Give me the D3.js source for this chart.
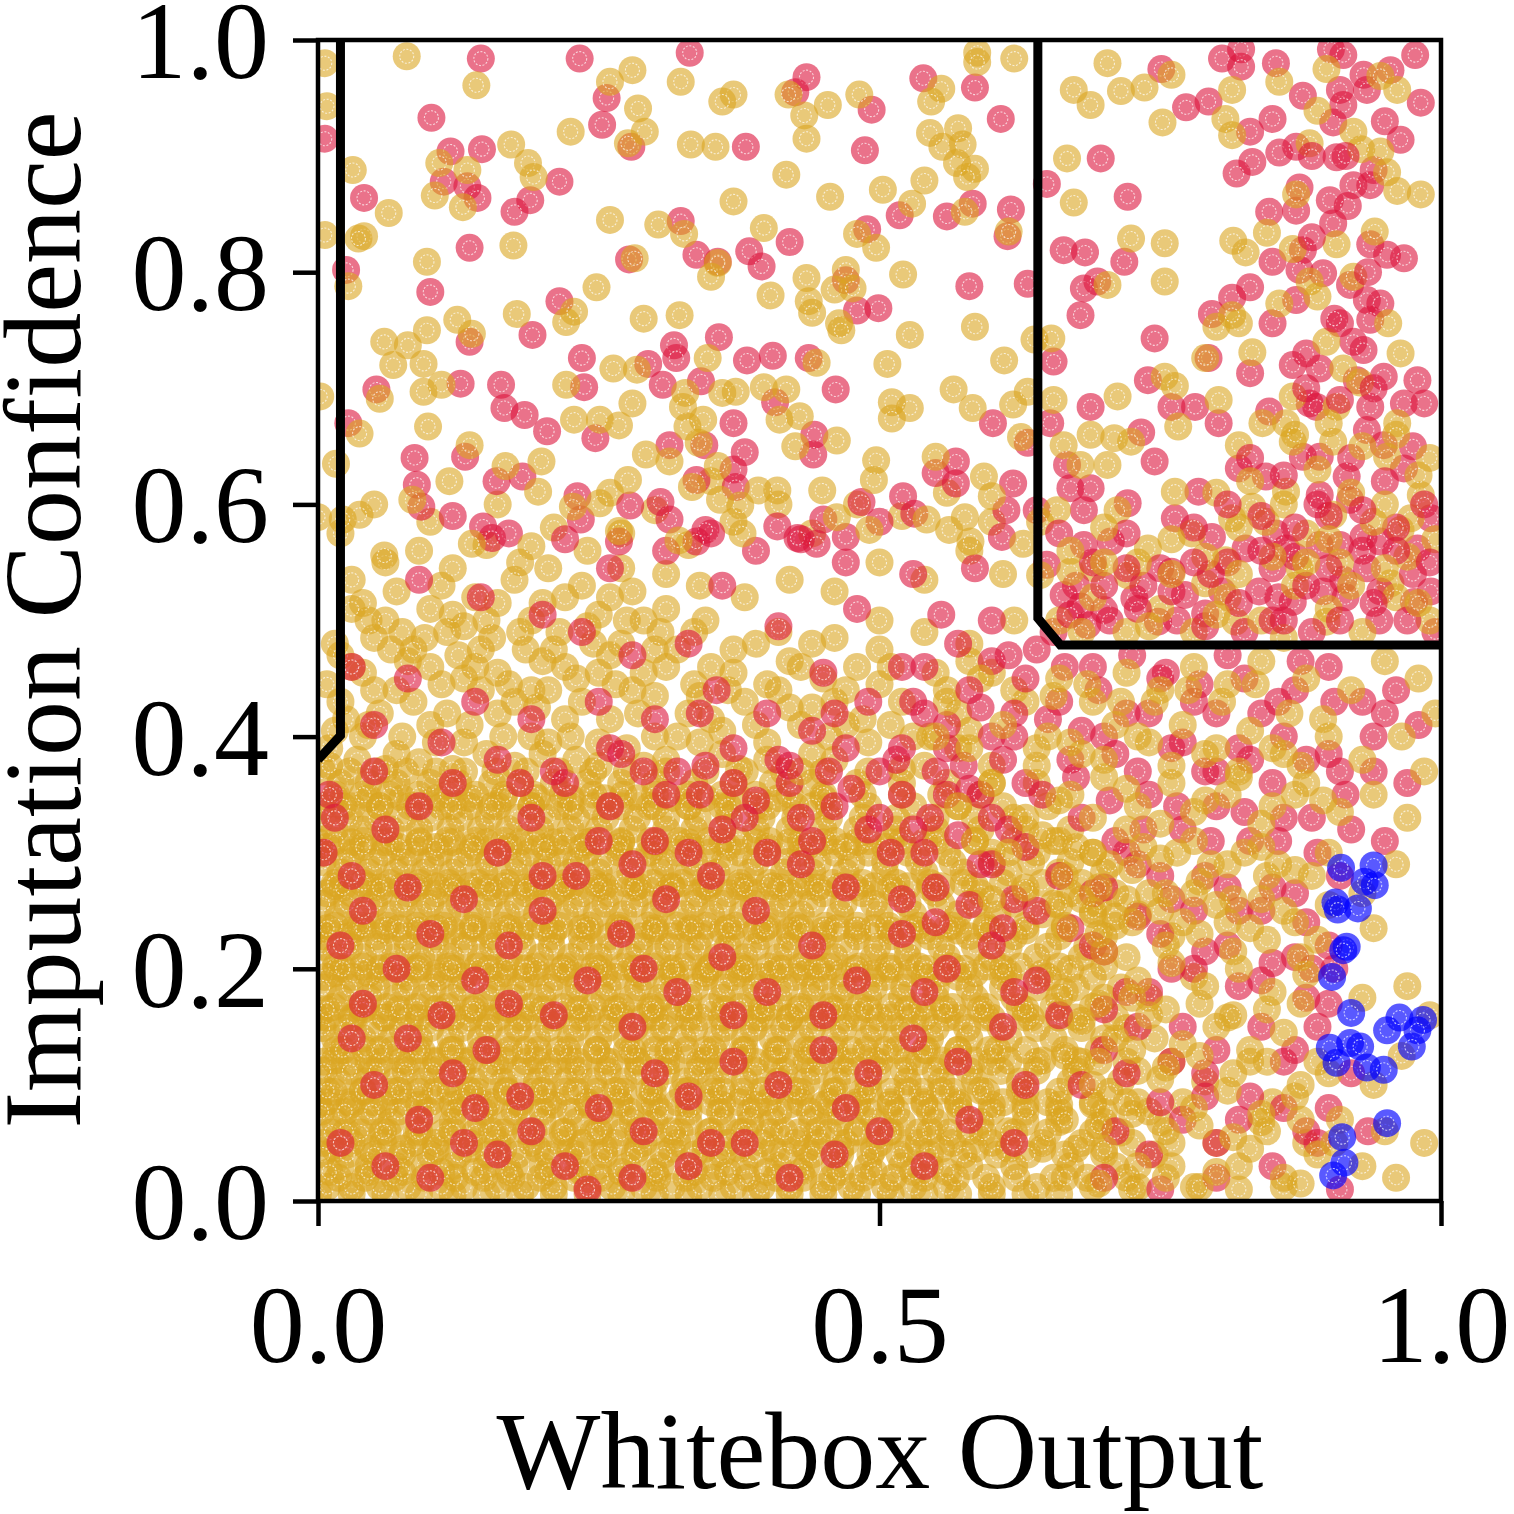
<!DOCTYPE html>
<html><head><meta charset="utf-8">
<script src="https://cdn.jsdelivr.net/npm/d3@7"></script>
<style>body{margin:0;background:#fff}</style>
</head><body>
<svg id="c" width="1514" height="1514"></svg>
<script>
const xTicks = [0, 0.5, 1.0];
const yTicks = [0, 0.2, 0.4, 0.6, 0.8, 1.0];
const xLabel = "Whitebox Output";
const yLabel = "Imputation Confidence";

// boundary polylines (data units)
const leftBoundary = [[0.020,1.0],[0.020,0.401],[0,0.38]];
const rightBoundary = [[0.641,1.0],[0.641,0.502],[0.661,0.479],[1.0,0.479]];

// gold points, upper-left sparse area
const goldTop = [[.079,.986],[.141,.961],[.280,.974],[.260,.964],[.285,.941],[.291,.921],[.276,.911],[.225,.921],[.006,.980],[.008,.943],[.370,.953],[.360,.947],[.419,.953],[.454,.944],[.433,.935],[.435,.915],[.354,.908],[.332,.910],[.482,.953],[.587,.989],[.587,.981],[.620,.984],[.323,.964],[.555,.958],[.546,.947],[.545,.920],[.570,.924],[.556,.908],[.574,.910],[.569,.894],[.585,.889],[.578,.882],[.540,.879],[.503,.871],[.529,.859],[.576,.852],[.615,.835],[.456,.865],[.417,.884],[.370,.861],[.397,.838],[.480,.833],[.497,.821],[.356,.808],[.350,.796],[.303,.841],[.326,.833],[.260,.845],[.282,.812],[.435,.795],[.470,.802],[.460,.785],[.476,.786],[.403,.780],[.437,.775],[.440,.765],[.464,.756],[.466,.750],[.521,.798],[.527,.746],[.585,.753],[.638,.742],[.611,.724],[.507,.721],[.444,.722],[.347,.726],[.284,.716],[.263,.717],[.221,.703],[.327,.696],[.325,.684],[.372,.697],[.360,.696],[.397,.701],[.417,.699],[.429,.676],[.411,.673],[.462,.655],[.425,.650],[.343,.673],[.329,.667],[.280,.687],[.268,.668],[.251,.673],[.228,.673],[.110,.703],[.094,.697],[.055,.691],[.002,.693],[.098,.667],[.037,.661],[.135,.651],[.167,.633],[.199,.637],[.196,.611],[.117,.620],[.084,.604],[.016,.635],[.037,.591],[.022,.587],[.000,.589],[.137,.566],[.059,.556],[.190,.564],[.276,.621],[.227,.598],[.251,.601],[.268,.577],[.321,.569],[.292,.643],[.313,.637],[.339,.653],[.333,.615],[.356,.633],[.376,.599],[.358,.604],[.392,.612],[.409,.612],[.378,.575],[.449,.612],[.462,.589],[.491,.578],[.497,.638],[.495,.621],[.550,.641],[.593,.624],[.600,.607],[.542,.587],[.576,.589],[.562,.578],[.581,.568],[.628,.566],[.566,.699],[.583,.683],[.619,.686],[.632,.697],[.626,.658],[.511,.688],[.527,.683],[.511,.674],[.063,.851],[.041,.831],[.036,.829],[.031,.888],[.027,.788],[.006,.832],[.097,.809],[.174,.823],[.104,.866],[.108,.894],[.133,.888],[.129,.856],[.172,.910],[.187,.894],[.192,.882],[.177,.764],[.221,.757],[.228,.766],[.248,.787],[.124,.759],[.137,.747],[.097,.750],[.059,.740],[.080,.737],[.067,.720],[.094,.721],[.290,.760],[.322,.763]];

// gold points, upper-right box
const goldBox = [[.703,.980],[.673,.957],[.688,.944],[.715,.956],[.736,.959],[.760,.970],[.752,.929],[.814,.957],[.856,.964],[.808,.932],[.814,.918],[.898,.975],[.946,.969],[.961,.957],[.890,.939],[.922,.921],[.982,.867],[.961,.870],[.946,.904],[.952,.886],[.929,.906],[.883,.911],[.871,.867],[.845,.834],[.815,.827],[.826,.817],[.868,.820],[.907,.824],[.941,.835],[.883,.792],[.800,.753],[.820,.756],[.856,.773],[.890,.779],[.922,.796],[.953,.756],[.898,.740],[.964,.730],[.913,.717],[.928,.705],[.961,.670],[.907,.684],[.841,.670],[.862,.670],[.868,.693],[.952,.641],[.982,.608],[.973,.588],[.964,.578],[.955,.532],[.904,.654],[.868,.654],[.862,.611],[.904,.591],[.844,.585],[.808,.552],[.814,.588],[.832,.598],[.820,.651],[.802,.690],[.766,.667],[.724,.654],[.709,.657],[.688,.660],[.679,.634],[.658,.595],[.712,.595],[.703,.634],[.643,.539],[.643,.585],[.691,.545],[.739,.562],[.778,.575],[.763,.611],[.790,.532],[.817,.499],[.874,.545],[.898,.499],[.721,.539],[.670,.542],[.664,.651],[.655,.690],[.653,.743],[.712,.693],[.754,.825],[.754,.792],[.703,.789],[.724,.829],[.667,.898],[.673,.860],[.754,.710],[.763,.702],[.790,.726],[.832,.731],[.814,.763]];
const goldBox2 = [[.66,.5],[.69,.52],[.72,.49],[.75,.51],[.78,.49],[.81,.52],[.84,.5],[.87,.53],[.9,.51],[.93,.49],[.96,.52],[.99,.5],[.67,.56],[.7,.58],[.73,.55],[.76,.57],[.79,.555],[.82,.58],[.85,.555],[.88,.575],[.91,.55],[.94,.585],[.97,.555],[.995,.57],[.8,.61],[.83,.62],[.86,.6],[.89,.63],[.92,.61],[.95,.6],[.98,.625],[.87,.66],[.9,.67],[.93,.65],[.96,.66],[.99,.64]];
const goldBox3 = [[.68,.49],[.74,.495],[.8,.505],[.86,.485],[.92,.53],[.98,.515],[.7,.55],[.76,.54],[.82,.54],[.88,.55],[.95,.545],[.9,.57]];

// gold points, middle band left
const goldMid = [[.01,.39],[.04,.40],[.07,.385],[.1,.41],[.13,.395],[.16,.42],[.19,.40],[.22,.415],[.25,.395],[.285,.42],[.32,.40],[.35,.415],[.38,.43],[.41,.44],[.44,.425],[.47,.41],[.5,.445],[.53,.4],[.57,.42],[.6,.455],[.63,.43],[.02,.43],[.05,.44],[.08,.465],[.11,.445],[.14,.46],[.17,.445],[.2,.465],[.23,.45],[.26,.47],[.29,.455],[.32,.475],[.35,.46],[.39,.48],[.42,.465],[.46,.485],[.5,.475],[.54,.49],[.58,.48],[.62,.5],[.015,.48],[.045,.5],[.075,.49],[.1,.51],[.13,.495],[.16,.515],[.19,.5],[.22,.52],[.25,.505],[.28,.525],[.31,.51],[.34,.53],[.38,.52],[.42,.535],[.46,.525],[.5,.55],[.54,.535],[.58,.56],[.61,.54],[.03,.535],[.06,.55],[.09,.56],[.12,.545],[.15,.565],[.18,.55],[.21,.58],[.24,.56],[.27,.575],[.3,.595],[.33,.565],[.37,.585],[.41,.6],[.44,.575],[.48,.6],[.52,.59],[.56,.61],[.6,.585],[.02,.575],[.05,.6],[.1,.585],[.16,.6],[.26,.61],[.35,.62]];
const goldMid2 = [[.025,.415],[.055,.42],[.085,.43],[.115,.42],[.145,.44],[.175,.43],[.205,.44],[.235,.43],[.265,.445],[.3,.435],[.335,.445],[.365,.44],[.03,.46],[.065,.475],[.095,.485],[.125,.47],[.155,.485],[.185,.475],[.215,.49],[.245,.48],[.275,.5],[.305,.49],[.345,.5],[.04,.515],[.07,.525],[.11,.53],[.14,.52],[.175,.535],[.205,.545],[.235,.53],[.27,.545],[.31,.54],[.45,.45],[.48,.46],[.52,.43],[.55,.455],[.58,.465],[.43,.41],[.46,.43],[.2,.385],[.23,.38],[.29,.375],[.36,.385],[.4,.395],[.44,.385],[.54,.375],[.6,.375],[.64,.39]];
const goldMid3 = [[.01,.375],[.035,.38],[.06,.372],[.09,.378],[.12,.372],[.15,.385],[.175,.375],[.205,.395],[.25,.375],[.275,.39],[.31,.38],[.34,.395],[.375,.372],[.4,.38],[.43,.37],[.46,.38],[.49,.395],[.52,.372],[.57,.39],[.015,.405],[.045,.41],[.075,.4],[.105,.395],[.135,.41],[.165,.4],[.195,.425],[.225,.4],[.26,.415],[.3,.4],[.33,.42],[.36,.405],[.39,.41],[.42,.425],[.455,.4],[.485,.415],[.51,.41],[.545,.4],[.58,.405],[.008,.445],[.04,.455],[.07,.44],[.1,.46],[.13,.45],[.16,.455],[.19,.44],[.22,.46],[.25,.455],[.28,.44],[.31,.46],[.34,.435],[.37,.455],[.4,.445],[.43,.46],[.47,.44],[.51,.46],[.56,.44],[.02,.47],[.05,.485],[.085,.475],[.115,.49],[.145,.475],[.18,.49],[.21,.475],[.24,.495],[.27,.48],[.3,.475],[.335,.49],[.37,.475],[.41,.49],[.44,.48],[.5,.5],[.03,.51],[.06,.5],[.12,.505],[.15,.5],[.2,.515],[.26,.52],[.29,.5]];

// gold points, dense lower-left cloud, read row by row: [y, [x...]]
const goldCoreRows = [
 [.012,[.008,.03,.055,.08,.11,.13,.16,.185,.21,.24,.262,.29,.315,.34,.37,.395,.42,.45,.475,.505,.53,.56,.6,.64,.69,.73,.78,.86]],
 [.03,[.02,.045,.07,.095,.12,.15,.175,.2,.225,.25,.275,.305,.33,.355,.38,.41,.435,.46,.49,.52,.545,.58,.62,.67,.71,.76,.82]],
 [.05,[.005,.03,.058,.085,.105,.135,.16,.19,.215,.235,.265,.29,.32,.345,.365,.395,.425,.445,.47,.5,.535,.565,.6,.645,.68,.725,.8,.88]],
 [.068,[.015,.04,.065,.09,.12,.145,.17,.2,.23,.255,.28,.3,.33,.36,.385,.405,.44,.465,.495,.52,.55,.59,.63,.66,.7,.75,.84]],
 [.085,[.007,.028,.05,.078,.1,.128,.155,.18,.205,.24,.268,.295,.32,.35,.375,.4,.43,.455,.48,.51,.54,.57,.61,.65,.69,.73,.77,.85]],
 [.103,[.018,.042,.068,.092,.115,.14,.165,.195,.22,.245,.272,.3,.327,.35,.38,.41,.435,.462,.49,.525,.555,.585,.625,.67,.715,.79]],
 [.12,[.005,.03,.055,.08,.105,.13,.158,.185,.21,.232,.26,.285,.31,.34,.365,.39,.42,.448,.475,.5,.535,.565,.6,.64,.68,.72,.76,.83]],
 [.14,[.015,.04,.065,.09,.118,.145,.17,.195,.225,.25,.275,.3,.325,.355,.38,.405,.43,.46,.49,.515,.545,.58,.615,.655,.7,.745]],
 [.158,[.008,.032,.058,.082,.108,.135,.16,.185,.21,.235,.262,.29,.315,.34,.37,.395,.42,.445,.47,.5,.53,.56,.595,.635,.675,.71,.81]],
 [.175,[.02,.045,.07,.095,.12,.15,.175,.2,.228,.255,.28,.305,.33,.36,.385,.41,.44,.465,.49,.52,.55,.585,.62,.66,.7,.74]],
 [.193,[.006,.03,.055,.08,.108,.13,.16,.185,.212,.24,.265,.29,.318,.345,.37,.395,.425,.45,.48,.505,.54,.57,.61,.65,.69,.78]],
 [.21,[.015,.04,.068,.092,.118,.145,.17,.198,.225,.25,.278,.302,.33,.355,.38,.41,.435,.46,.495,.525,.56,.6,.64,.68,.72]],
 [.228,[.005,.028,.052,.078,.105,.13,.155,.18,.208,.235,.26,.288,.315,.34,.368,.395,.42,.45,.48,.51,.545,.58,.62,.66,.7,.76]],
 [.247,[.018,.042,.065,.09,.115,.142,.168,.195,.22,.248,.272,.3,.325,.35,.378,.405,.43,.465,.5,.53,.57,.605,.645,.69,.73]],
 [.265,[.008,.03,.055,.08,.105,.13,.158,.185,.21,.235,.26,.288,.31,.338,.365,.39,.42,.45,.485,.515,.55,.59,.63,.67,.71]],
 [.283,[.02,.045,.07,.095,.12,.148,.175,.2,.225,.25,.278,.305,.33,.355,.385,.415,.44,.47,.505,.54,.575,.615,.66,.7]],
 [.3,[.005,.03,.058,.082,.108,.135,.16,.188,.215,.24,.268,.295,.32,.348,.375,.4,.43,.46,.49,.525,.56,.6,.64,.69]],
 [.32,[.015,.04,.065,.09,.118,.145,.17,.198,.225,.25,.28,.31,.335,.36,.39,.42,.45,.48,.515,.55,.59,.63,.67]],
 [.34,[.005,.03,.055,.082,.11,.135,.16,.19,.215,.245,.27,.3,.33,.36,.39,.425,.455,.49,.53,.57,.61,.65]],
 [.36,[.02,.045,.07,.1,.125,.155,.18,.21,.24,.27,.3,.335,.37,.405,.44,.48,.52,.56,.6,.64]]
];
const goldCoreRows2 = [
 [.02,[.018,.042,.068,.095,.122,.148,.172,.198,.228,.252,.278,.302,.328,.352,.382,.408,.432,.458,.485,.512,.54,.568,.595,.622,.655,.685,.72]],
 [.04,[.004,.026,.05,.075,.1,.125,.152,.178,.205,.23,.255,.282,.308,.335,.36,.388,.415,.44,.465,.492,.518,.545,.575,.605,.632,.665,.7,.745]],
 [.059,[.012,.038,.062,.088,.112,.14,.165,.192,.218,.245,.27,.298,.322,.348,.375,.402,.428,.455,.48,.508,.535,.562,.592,.62,.65,.69,.715]],
 [.077,[.003,.024,.048,.072,.098,.122,.148,.175,.2,.225,.252,.278,.305,.33,.358,.385,.41,.438,.462,.49,.515,.545,.572,.6,.63,.66,.7,.74]],
 [.094,[.014,.04,.065,.09,.118,.142,.168,.192,.22,.248,.272,.298,.325,.352,.378,.405,.43,.458,.485,.51,.538,.565,.595,.625,.66,.705]],
 [.112,[.005,.028,.052,.078,.102,.128,.155,.18,.205,.232,.258,.285,.31,.338,.362,.39,.415,.442,.47,.498,.522,.55,.58,.608,.64,.675,.73]],
 [.13,[.016,.042,.066,.092,.118,.145,.17,.196,.222,.248,.275,.3,.328,.352,.38,.408,.435,.46,.488,.515,.542,.57,.598,.63,.665,.695]],
 [.149,[.004,.026,.05,.075,.1,.128,.152,.178,.205,.23,.258,.282,.308,.335,.362,.388,.415,.44,.468,.495,.522,.55,.578,.608,.64,.68,.72]],
 [.167,[.014,.038,.062,.088,.115,.14,.165,.19,.218,.245,.27,.296,.322,.35,.376,.402,.43,.456,.482,.51,.538,.565,.595,.625,.655,.69]],
 [.184,[.004,.028,.052,.078,.102,.128,.155,.18,.206,.232,.258,.285,.31,.336,.362,.39,.416,.442,.468,.495,.522,.55,.58,.61,.64,.675,.715]],
 [.202,[.016,.04,.065,.09,.116,.142,.168,.194,.22,.246,.272,.298,.325,.35,.376,.402,.43,.455,.482,.508,.535,.565,.595,.625,.66,.7]],
 [.219,[.004,.028,.054,.08,.105,.13,.156,.182,.208,.235,.26,.286,.312,.338,.365,.39,.418,.445,.47,.498,.525,.555,.585,.615,.65,.685]],
 [.237,[.015,.038,.062,.088,.112,.138,.165,.19,.215,.242,.268,.294,.32,.346,.372,.4,.426,.452,.48,.508,.535,.565,.595,.63,.665,.71]],
 [.256,[.004,.026,.05,.076,.1,.126,.152,.178,.205,.23,.256,.282,.308,.335,.36,.388,.414,.44,.468,.495,.525,.555,.585,.62,.655,.695]],
 [.274,[.015,.04,.064,.09,.116,.142,.168,.194,.22,.246,.272,.298,.324,.35,.376,.402,.43,.458,.485,.515,.545,.575,.61,.645,.68]],
 [.292,[.004,.026,.05,.076,.1,.126,.152,.178,.204,.23,.256,.282,.308,.335,.362,.39,.418,.445,.475,.505,.535,.565,.6,.635,.67]],
 [.31,[.016,.04,.064,.09,.115,.14,.166,.192,.218,.244,.27,.296,.322,.348,.375,.402,.43,.46,.49,.52,.55,.585,.62,.655]],
 [.33,[.004,.028,.052,.076,.1,.126,.152,.178,.204,.23,.256,.284,.31,.338,.366,.395,.425,.455,.485,.515,.55,.585,.62]],
 [.35,[.016,.04,.064,.09,.115,.14,.166,.192,.218,.245,.272,.3,.33,.36,.39,.42,.45,.485,.52,.555,.59]],
 [.37,[.004,.028,.052,.078,.105,.13,.158,.185,.215,.245,.275,.31,.345,.38,.415,.45,.49]]
];
const goldCoreRows3 = [
 [.025,[.01,.045,.075,.11,.14,.17,.205,.235,.27,.3,.335,.365,.4,.43,.465,.495,.53,.56]],
 [.06,[.025,.058,.09,.12,.155,.185,.22,.25,.285,.315,.35,.38,.415,.445,.48,.51,.545,.58,.615]],
 [.095,[.008,.04,.072,.105,.135,.168,.2,.23,.265,.295,.33,.36,.395,.425,.46,.49,.525,.555,.59,.63]],
 [.13,[.022,.055,.088,.12,.152,.185,.215,.248,.28,.312,.345,.378,.41,.44,.475,.505,.54,.57,.605]],
 [.165,[.008,.04,.072,.105,.138,.17,.2,.232,.265,.298,.33,.362,.395,.428,.46,.49,.525,.558,.59,.63]],
 [.2,[.022,.055,.088,.12,.152,.185,.218,.25,.282,.315,.348,.38,.412,.445,.478,.51,.542,.575,.61]],
 [.235,[.008,.04,.072,.105,.138,.17,.202,.235,.268,.3,.332,.365,.398,.43,.462,.495,.528,.56,.595]],
 [.27,[.022,.055,.088,.12,.152,.185,.218,.25,.282,.315,.348,.38,.412,.445,.478,.51,.545]],
 [.305,[.008,.04,.072,.105,.138,.17,.202,.235,.268,.3,.332,.365,.4,.435,.47,.505]],
 [.34,[.022,.055,.088,.12,.155,.19,.225,.26,.295,.33,.365,.4,.44]]
];
const goldCoreRows4 = [
 [.006,[.0,.03,.06,.09,.12,.15,.18,.21,.24,.27,.3,.33,.36,.39,.42,.45,.48,.51,.54,.57,.6,.63,.66]],
 [.045,[.015,.045,.075,.105,.135,.165,.195,.225,.255,.285,.315,.345,.375,.405,.435,.465,.495,.525,.555,.585,.615,.645,.675]],
 [.083,[.0,.03,.06,.09,.12,.15,.18,.21,.24,.27,.3,.33,.36,.39,.42,.45,.48,.51,.54,.57,.6,.63,.66,.69]],
 [.121,[.015,.045,.075,.105,.135,.165,.195,.225,.255,.285,.315,.345,.375,.405,.435,.465,.495,.525,.555,.585,.615,.645,.675]],
 [.158,[.0,.03,.06,.09,.12,.15,.18,.21,.24,.27,.3,.33,.36,.39,.42,.45,.48,.51,.54,.57,.6,.63,.66]],
 [.196,[.015,.045,.075,.105,.135,.165,.195,.225,.255,.285,.315,.345,.375,.405,.435,.465,.495,.525,.555,.585,.615,.645]],
 [.233,[.0,.03,.06,.09,.12,.15,.18,.21,.24,.27,.3,.33,.36,.39,.42,.45,.48,.51,.54,.57,.6,.63]],
 [.271,[.015,.045,.075,.105,.135,.165,.195,.225,.255,.285,.315,.345,.375,.405,.435,.465,.495,.525,.555,.585]],
 [.309,[.0,.03,.06,.09,.12,.15,.18,.21,.24,.27,.3,.33,.36,.39,.42,.45,.48,.51,.54]],
 [.347,[.015,.045,.075,.105,.135,.165,.195,.225,.255,.285,.315,.345,.375,.41,.45]]
];

// gold points, lower-right area
const goldRight = [[.66,.45],[.69,.43],[.72,.455],[.75,.44],[.78,.46],[.81,.445],[.84,.465],[.88,.45],[.92,.44],[.95,.465],[.98,.45],[.995,.42],[.65,.4],[.68,.385],[.71,.41],[.74,.395],[.77,.41],[.8,.39],[.83,.405],[.86,.385],[.9,.4],[.93,.38],[.965,.4],[.985,.37],[.67,.35],[.7,.365],[.73,.34],[.76,.36],[.79,.345],[.82,.365],[.85,.34],[.88,.36],[.91,.335],[.94,.35],[.97,.33],[.66,.31],[.69,.3],[.72,.32],[.75,.295],[.78,.31],[.81,.29],[.84,.305],[.87,.285],[.9,.3],[.93,.265],[.96,.29],[.68,.26],[.71,.245],[.74,.265],[.77,.24],[.8,.255],[.83,.235],[.86,.25],[.89,.225],[.94,.235],[.67,.2],[.7,.215],[.73,.19],[.76,.205],[.79,.185],[.82,.2],[.85,.18],[.88,.195],[.93,.175],[.97,.185],[.99,.16],[.68,.155],[.71,.14],[.74,.16],[.77,.135],[.8,.15],[.83,.13],[.86,.145],[.89,.12],[.94,.1],[.965,.125],[.69,.1],[.72,.085],[.75,.105],[.78,.08],[.81,.095],[.84,.075],[.87,.09],[.91,.07],[.95,.06],[.985,.05],[.7,.045],[.73,.03],[.76,.05],[.8,.025],[.83,.045],[.86,.02],[.89,.04],[.93,.03],[.96,.02]];
const goldRight2 = [[.665,.28],[.695,.27],[.725,.285],[.755,.265],[.785,.275],[.815,.26],[.845,.28],[.665,.235],[.695,.23],[.725,.24],[.755,.22],[.785,.23],[.815,.215],[.845,.225],[.875,.21],[.665,.18],[.695,.17],[.725,.175],[.755,.165],[.785,.17],[.815,.16],[.845,.165],[.875,.17],[.665,.125],[.695,.12],[.725,.13],[.755,.115],[.785,.125],[.815,.11],[.845,.12],[.875,.1],[.665,.07],[.695,.065],[.725,.075],[.755,.06],[.785,.065],[.815,.055],[.845,.06],[.875,.07],[.665,.02],[.695,.015],[.725,.01],[.755,.02],[.785,.012],[.82,.01],[.875,.015],[.9,.11],[.905,.05]];
const goldRight3 = [[.56,.43],[.59,.45],[.62,.44],[.655,.435],[.685,.445],[.715,.43],[.745,.43],[.775,.44],[.805,.43],[.835,.445],[.865,.42],[.895,.415],[.55,.4],[.58,.39],[.61,.41],[.64,.375],[.67,.395],[.7,.38],[.73,.4],[.76,.375],[.79,.385],[.82,.37],[.85,.39],[.875,.375],[.57,.34],[.6,.36],[.63,.33],[.66,.345],[.69,.33],[.72,.355],[.75,.325],[.78,.335],[.81,.35],[.84,.325],[.87,.35],[.895,.345],[.585,.31],[.615,.3],[.645,.315],[.675,.305],[.705,.29],[.735,.305],[.765,.3],[.795,.29],[.825,.3],[.855,.29],[.885,.28],[.6,.26],[.63,.27],[.66,.255],[.69,.25],[.72,.26],[.75,.25],[.78,.265],[.81,.24],[.84,.26],[.87,.24],[.9,.255]];

// red points, upper-left sparse area
const redTop = [[.145,.984],[.233,.984],[.331,.989],[.257,.950],[.253,.927],[.279,.908],[.101,.933],[.006,.915],[.435,.968],[.425,.955],[.381,.908],[.493,.940],[.487,.905],[.539,.967],[.585,.959],[.608,.932],[.518,.849],[.560,.848],[.583,.859],[.617,.854],[.614,.831],[.420,.826],[.489,.837],[.384,.818],[.395,.805],[.337,.815],[.356,.809],[.323,.844],[.277,.811],[.470,.793],[.480,.767],[.499,.769],[.580,.788],[.632,.790],[.437,.726],[.405,.728],[.382,.724],[.357,.744],[.317,.737],[.319,.726],[.294,.721],[.235,.726],[.237,.701],[.307,.703],[.341,.706],[.407,.688],[.461,.699],[.442,.660],[.441,.643],[.370,.670],[.247,.657],[.204,.663],[.184,.677],[.166,.683],[.163,.703],[.127,.704],[.052,.699],[.027,.670],[.086,.640],[.131,.641],[.182,.624],[.159,.620],[.088,.617],[.092,.598],[.147,.581],[.155,.571],[.231,.607],[.234,.587],[.278,.599],[.268,.568],[.305,.602],[.313,.587],[.313,.651],[.344,.651],[.337,.621],[.370,.630],[.372,.615],[.380,.645],[.345,.578],[.337,.568],[.409,.581],[.427,.571],[.444,.566],[.450,.587],[.484,.602],[.470,.572],[.521,.607],[.550,.627],[.568,.637],[.568,.618],[.619,.618],[.613,.595],[.531,.592],[.609,.572],[.601,.670],[.632,.653],[.041,.864],[.025,.802],[.100,.783],[.135,.821],[.112,.878],[.118,.904],[.133,.874],[.142,.864],[.146,.906],[.189,.862],[.175,.852],[.215,.878],[.215,.775],[.191,.746],[.135,.740]];

// red points, upper-right box
const redBox = [[.751,.975],[.773,.942],[.793,.947],[.805,.984],[.822,.992],[.822,.977],[.853,.980],[.830,.921],[.850,.932],[.877,.952],[.902,.992],[.913,.987],[.931,.970],[.955,.974],[.977,.987],[.982,.946],[.910,.957],[.913,.944],[.904,.929],[.934,.957],[.964,.914],[.937,.875],[.922,.875],[.940,.888],[.907,.899],[.856,.903],[.871,.908],[.832,.895],[.818,.885],[.874,.873],[.847,.852],[.871,.853],[.901,.862],[.904,.842],[.917,.857],[.850,.809],[.877,.819],[.937,.824],[.952,.815],[.967,.812],[.874,.802],[.895,.799],[.830,.787],[.814,.778],[.796,.764],[.850,.756],[.871,.776],[.919,.789],[.934,.776],[.946,.773],[.937,.759],[.910,.756],[.922,.740],[.931,.733],[.880,.730],[.868,.720],[.892,.717],[.925,.707],[.949,.710],[.979,.707],[.985,.687],[.967,.687],[.937,.684],[.883,.687],[.889,.684],[.847,.680],[.934,.664],[.949,.651],[.967,.631],[.991,.588],[.979,.562],[.991,.525],[.976,.516],[.946,.568],[.931,.572],[.919,.604],[.916,.624],[.892,.641],[.877,.641],[.844,.624],[.892,.608],[.910,.565],[.892,.565],[.862,.562],[.853,.575],[.826,.562],[.796,.572],[.820,.631],[.802,.670],[.781,.684],[.760,.684],[.745,.637],[.733,.662],[.688,.614],[.670,.614],[.721,.601],[.682,.595],[.664,.522],[.649,.548],[.640,.595],[.682,.565],[.706,.568],[.760,.542],[.763,.588],[.784,.611],[.772,.522],[.805,.525],[.790,.506],[.838,.525],[.850,.545],[.868,.516],[.895,.525],[.913,.535],[.934,.545],[.946,.525],[.748,.499],[.700,.509],[.685,.496],[.727,.519],[.679,.512],[.652,.670],[.688,.684],[.667,.634],[.655,.723],[.721,.865],[.679,.763],[.682,.786],[.694,.792],[.664,.819],[.683,.817],[.718,.809],[.697,.898],[.649,.876],[.745,.743],[.739,.707],[.793,.726],[.830,.713]];
const redBox2 = [[.655,.49],[.675,.53],[.705,.5],[.735,.53],[.765,.5],[.795,.54],[.825,.49],[.855,.52],[.885,.49],[.915,.52],[.945,.5],[.975,.54],[.995,.49],[.66,.575],[.69,.55],[.72,.575],[.75,.545],[.78,.58],[.81,.55],[.84,.59],[.87,.555],[.9,.59],[.93,.56],[.96,.58],[.985,.6],[.83,.64],[.86,.625],[.89,.6],[.92,.64],[.95,.62],[.975,.65],[.88,.7],[.91,.69],[.94,.7],[.905,.76],[.935,.8],[.885,.83],[.915,.9],[.95,.93],[.885,.9]];
const redBox3 = [[.67,.505],[.7,.53],[.73,.51],[.76,.525],[.79,.495],[.82,.515],[.85,.5],[.88,.53],[.91,.5],[.94,.515],[.97,.5],[.99,.55],[.72,.545],[.78,.55],[.84,.56],[.9,.545],[.96,.56],[.87,.58],[.93,.595],[.81,.6],[.86,.5]];

// red points, middle band left
const redMid = [[.09,.535],[.145,.52],[.20,.505],[.235,.49],[.28,.47],[.33,.48],[.36,.53],[.41,.495],[.45,.455],[.48,.51],[.52,.46],[.555,.505],[.585,.545],[.60,.50],[.615,.47],[.53,.54],[.50,.585],[.47,.55],[.43,.57],[.39,.56],[.35,.575],[.31,.56],[.26,.545],[.22,.57],[.17,.575],[.12,.59],[.08,.45],[.14,.43],[.19,.415],[.25,.43],[.30,.415],[.355,.44],[.40,.42],[.44,.405],[.49,.43],[.54,.42],[.58,.44],[.62,.42],[.63,.45],[.60,.40],[.56,.39],[.515,.38],[.47,.39],[.42,.375],[.37,.39],[.32,.37],[.27,.385],[.21,.37],[.16,.38],[.11,.395],[.05,.41],[.03,.46]];

// red points, lower area
const redLow = [[.01,.35],[.015,.33],[.005,.3],[.03,.28],[.06,.32],[.09,.34],[.04,.25],[.02,.22],[.07,.2],[.1,.23],[.13,.26],[.16,.3],[.19,.33],[.22,.36],[.26,.34],[.3,.31],[.34,.35],[.38,.33],[.42,.36],[.46,.34],[.5,.37],[.53,.32],[.56,.35],[.6,.33],[.63,.36],[.04,.17],[.08,.14],[.11,.16],[.14,.19],[.17,.22],[.2,.25],[.23,.28],[.27,.23],[.31,.26],[.35,.28],[.39,.25],[.43,.29],[.47,.27],[.51,.3],[.55,.27],[.59,.29],[.62,.26],[.05,.1],[.09,.07],[.12,.11],[.15,.13],[.18,.09],[.21,.16],[.24,.19],[.28,.15],[.32,.18],[.36,.21],[.4,.18],[.44,.22],[.48,.19],[.52,.23],[.56,.2],[.6,.22],[.64,.19],[.02,.05],[.06,.03],[.1,.02],[.13,.05],[.16,.04],[.19,.06],[.22,.03],[.25,.08],[.29,.06],[.33,.09],[.37,.12],[.41,.1],[.45,.13],[.49,.11],[.53,.14],[.57,.12],[.61,.15],[.24,.01],[.28,.02],[.33,.03],[.38,.05],[.42,.02],[.46,.04],[.5,.06],[.54,.03],[.58,.07],[.62,.05],[.66,.43],[.69,.46],[.72,.42],[.75,.45],[.78,.43],[.81,.47],[.84,.42],[.87,.44],[.9,.46],[.93,.43],[.96,.44],[.98,.41],[.67,.38],[.7,.4],[.73,.37],[.76,.39],[.79,.37],[.82,.39],[.85,.36],[.88,.38],[.91,.37],[.94,.4],[.97,.36],[.68,.33],[.71,.31],[.74,.35],[.77,.32],[.8,.34],[.83,.31],[.86,.33],[.89,.3],[.92,.32],[.95,.31],[.7,.27],[.73,.29],[.76,.26],[.79,.28],[.82,.25],[.85,.27],[.88,.24],[.91,.28],[.69,.22],[.72,.18],[.75,.23],[.78,.2],[.81,.22],[.84,.19],[.87,.21],[.9,.17],[.885,.2],[.7,.13],[.73,.15],[.76,.12],[.79,.11],[.83,.09],[.86,.12],[.89,.15],[.9,.08],[.71,.06],[.74,.04],[.77,.07],[.8,.05],[.85,.03],[.88,.06],[.91,.01]];
const redLow2 = [[.54,.46],[.57,.48],[.6,.465],[.64,.475],[.665,.46],[.695,.44],[.725,.47],[.755,.455],[.785,.445],[.8,.42],[.825,.45],[.855,.43],[.875,.465],[.905,.43],[.53,.43],[.56,.41],[.59,.425],[.62,.4],[.65,.415],[.68,.405],[.71,.385],[.74,.42],[.77,.395],[.8,.37],[.83,.38],[.86,.4],[.9,.385],[.52,.39],[.55,.37],[.58,.355],[.61,.38],[.645,.35],[.675,.365],[.705,.345],[.735,.32],[.765,.34],[.795,.31],[.825,.335],[.855,.31],[.885,.33],[.915,.35],[.94,.37],[.95,.42],[.5,.33],[.54,.3],[.57,.315],[.6,.29],[.63,.305],[.66,.28],[.69,.265],[.72,.3],[.75,.28],[.78,.25],[.81,.27],[.84,.25],[.87,.265],[.9,.22],[.52,.26],[.55,.24],[.58,.255],[.61,.235],[.64,.25],[.67,.235],[.7,.215],[.73,.245],[.76,.2],[.79,.215],[.82,.185],[.85,.205],[.88,.175],[.905,.2],[.62,.18],[.66,.16],[.7,.165],[.74,.18],[.77,.15],[.8,.13],[.84,.15],[.87,.13],[.68,.1],[.72,.11],[.75,.085],[.79,.09],[.82,.07],[.86,.08],[.89,.05],[.75,.01],[.8,.02],[.7,.02],[.92,.11],[.935,.06]];
const redLow3 = [[.29,.37],[.31,.35],[.345,.375],[.37,.36],[.39,.345],[.41,.38],[.43,.33],[.455,.37],[.475,.355],[.49,.32],[.52,.35],[.545,.33],[.575,.375],[.59,.35],[.615,.32],[.25,.31],[.28,.29],[.33,.3],[.36,.32],[.4,.3],[.44,.31],[.05,.37],[.12,.36],[.18,.36],[.26,.39],[.34,.42],[.46,.42],[.08,.27],[.2,.28],[.29,.2],[.37,.16],[.45,.16],[.54,.18],[.63,.1],[.47,.08],[.3,.11],[.14,.08],[.03,.14],[.17,.17],[.35,.05]];

// blue points
const bluePts = [[.911,.287],[.940,.289],[.932,.275],[.941,.272],[.906,.257],[.908,.251],[.926,.252],[.916,.219],[.913,.216],[.903,.193],[.920,.162],[.952,.147],[.963,.158],[.984,.156],[.979,.147],[.974,.133],[.901,.132],[.919,.136],[.928,.133],[.907,.119],[.934,.115],[.949,.113],[.952,.067],[.912,.055],[.914,.033],[.904,.022]];

const colors = {gold:"#DAA520", red:"#DC143C", blue:"#0000FF"};

// ---------- build ----------
const m = {left:318, top:40, right:1441, bottom:1201};
const x = d3.scaleLinear().domain([0,1]).range([m.left, m.right]);
const y = d3.scaleLinear().domain([0,1]).range([m.bottom, m.top]);
const svg = d3.select("#c");
const FONT = "'Liberation Serif','Times New Roman',serif";

svg.append("defs").append("clipPath").attr("id","clip")
  .append("rect").attr("x",m.left).attr("y",m.top).attr("width",m.right-m.left).attr("height",m.bottom-m.top);

const fromRows = rows => { const out = []; rows.forEach(([yy, xs]) => xs.forEach(xx => out.push([xx, yy]))); return out; };
const core = fromRows(goldCoreRows4).concat(fromRows(goldCoreRows), fromRows(goldCoreRows2), fromRows(goldCoreRows3)).map(p => ({p, c:"gold"}));
const gold = goldMid.concat(goldMid2, goldMid3, goldRight, goldRight2, goldRight3, goldTop, goldBox, goldBox2, goldBox3).map(p => ({p, c:"gold"}));
const red = redLow.concat(redLow2, redLow3, redMid, redTop, redBox, redBox2, redBox3).map(p => ({p, c:"red"}));

// draw order: dense gold cloud first, then remaining gold and red interleaved, blue last
const pts = core.slice();
let gi = 0, ri = 0;
const ratio = gold.length / red.length;
while (gi < gold.length || ri < red.length) {
  if (ri >= red.length || (gi < gold.length && gi < (ri + 1) * ratio)) pts.push(gold[gi++]);
  else pts.push(red[ri++]);
}
bluePts.forEach(p => pts.push({p, c:"blue"}));

const plot = svg.append("g").attr("clip-path","url(#clip)");
const g = plot.selectAll("g.pt").data(pts).join("g").attr("class","pt")
  .attr("transform", d => `translate(${x(d.p[0])},${y(d.p[1])})`);
g.append("circle").attr("r",14)
  .attr("fill", d => colors[d.c])
  .attr("fill-opacity", d => d.c === "blue" ? 0.65 : 0.6);
g.append("circle").attr("r",7).attr("fill","none")
  .attr("stroke","#fff").attr("stroke-width",1.1).attr("stroke-dasharray","2,1.6")
  .attr("stroke-opacity",0.7);

// boundaries
const line = d3.line().x(d => x(d[0])).y(d => y(d[1]));
[leftBoundary, rightBoundary].forEach(b => {
  plot.append("path").attr("d", line(b)).attr("fill","none")
    .attr("stroke","#000").attr("stroke-width",9).attr("stroke-linejoin","miter");
});

// frame
svg.append("rect").attr("x",m.left).attr("y",m.top)
  .attr("width",m.right-m.left).attr("height",m.bottom-m.top)
  .attr("fill","none").attr("stroke","#000").attr("stroke-width",4.5);

// axes
const xAxis = d3.axisBottom(x).tickValues(xTicks).tickFormat(d3.format(".1f")).tickSize(25).tickPadding(58);
const yAxis = d3.axisLeft(y).tickValues(yTicks).tickFormat(d3.format(".1f")).tickSize(25).tickPadding(24);
const gx = svg.append("g").attr("transform",`translate(0,${m.bottom})`).call(xAxis);
const gy = svg.append("g").attr("transform",`translate(${m.left},0)`).call(yAxis);
[gx, gy].forEach(a => {
  a.select(".domain").remove();
  a.selectAll(".tick line").attr("stroke","#000").attr("stroke-width",4.5);
  a.selectAll(".tick text").attr("fill","#000").style("font-family",FONT).style("font-size","110px");
});
gy.selectAll(".tick text").attr("dy","0.34em");

svg.append("text").attr("x",880).attr("y",1488).attr("text-anchor","middle")
  .style("font-family",FONT).style("font-size","110px").text(xLabel);
svg.append("text").attr("transform","translate(80,620) rotate(-90)").attr("text-anchor","middle")
  .style("font-family",FONT).style("font-size","110px").text(yLabel);
</script>
</body></html>
